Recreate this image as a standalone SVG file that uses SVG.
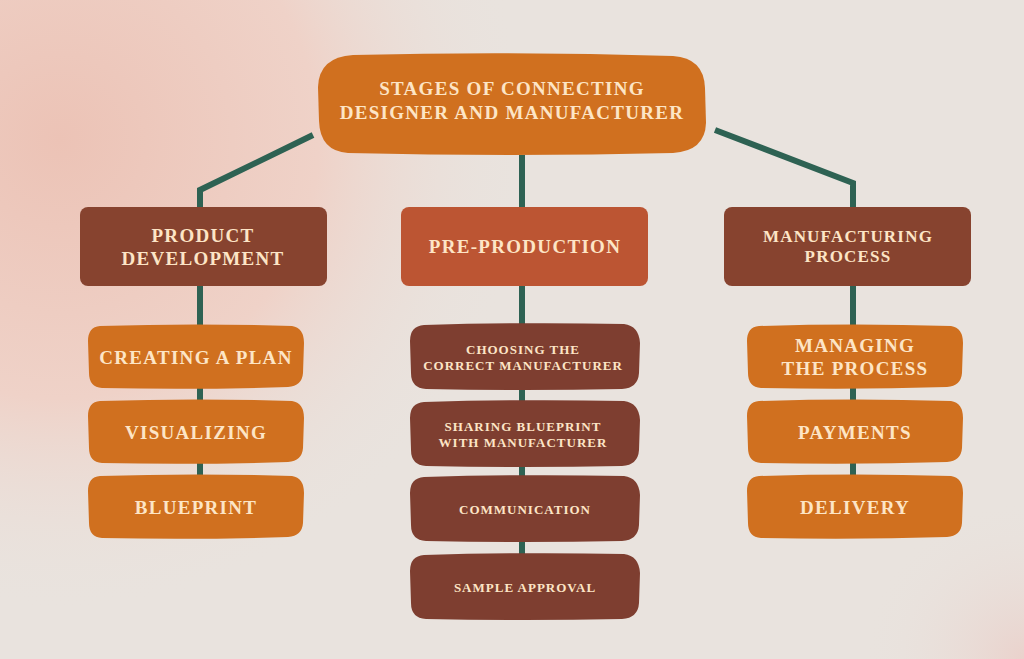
<svg xmlns="http://www.w3.org/2000/svg" xmlns:xlink="http://www.w3.org/1999/xlink" width="1024" height="659" viewBox="0 0 1024 659">
<defs>
<radialGradient id="pink" cx="60" cy="140" r="470" gradientUnits="userSpaceOnUse">
<stop offset="0" stop-color="#ecc3b6"/>
<stop offset="0.55" stop-color="#efd2c8"/>
<stop offset="1" stop-color="#e9e3de" stop-opacity="0"/>
</radialGradient>
<radialGradient id="pink2" cx="1024" cy="659" r="160" gradientUnits="userSpaceOnUse">
<stop offset="0" stop-color="#ead2cc"/>
<stop offset="1" stop-color="#e9e3de" stop-opacity="0"/>
</radialGradient>
<path id="blobA" d="M12 1 Q108 -2 204 1 Q216 3 216 18 L215 48 Q214 61 200 62 Q108 65 14 63 Q1 62 1 48 L0 16 Q0 2 12 1 Z"/>
<path id="blobB" d="M14 2 Q115 -1 214 1 Q229 3 230 20 L229 50 Q228 65 212 66 Q115 68 16 66 Q1 65 1 50 L0 18 Q0 3 14 2 Z"/>
<path id="blobTop" d="M35 2 Q194 -2 355 3 Q386 5 387 35 L388 70 Q387 98 355 100 Q194 104 30 100 Q2 98 1 68 L0 34 Q1 4 35 2 Z"/>
<style>
.t{font-family:"Liberation Serif","DejaVu Serif",serif;font-weight:bold;fill:#fde5c6;text-anchor:middle;dominant-baseline:central}
.big{font-size:19px;letter-spacing:1.3px}
.mid{font-size:17px;letter-spacing:1.2px}
.sm{font-size:13px;letter-spacing:1px}
.orange{fill:#d0701f}
.brown{fill:#87432f}
.rust{fill:#bc5533}
.dbrown{fill:#7e3e30}
.conn{fill:none;stroke:#2e6253;stroke-width:6;stroke-linejoin:miter}
</style>
</defs>
<rect width="1024" height="659" fill="#e9e3de"/>
<rect width="1024" height="659" fill="url(#pink)"/>
<rect width="1024" height="659" fill="url(#pink2)"/>

<g id="connectors">
<polyline class="conn" points="313,135 200,190 200,210"/>
<polyline class="conn" points="715,130 853,183 853,210"/>
<line class="conn" x1="522" y1="155" x2="522" y2="210"/>
<line class="conn" x1="200" y1="284" x2="200" y2="480"/>
<line class="conn" x1="522" y1="284" x2="522" y2="560"/>
<line class="conn" x1="853" y1="284" x2="853" y2="480"/>
</g>

<g id="root">
<use href="#blobTop" class="orange" x="318" y="53"/>
<text class="t big" x="512" y="88">STAGES OF CONNECTING</text>
<text class="t big" x="512" y="112">DESIGNER AND MANUFACTURER</text>
</g>

<g id="product-development">
<rect class="brown" x="80" y="207" width="247" height="79" rx="8"/>
<text class="t big" x="203" y="235">PRODUCT</text>
<text class="t big" x="203" y="258">DEVELOPMENT</text>
</g>
<g id="pre-production">
<rect class="rust" x="401" y="207" width="247" height="79" rx="8"/>
<text class="t big" x="525" y="246">PRE-PRODUCTION</text>
</g>
<g id="manufacturing-process">
<rect class="brown" x="724" y="207" width="247" height="79" rx="8"/>
<text class="t mid" x="848" y="236">MANUFACTURING</text>
<text class="t mid" x="848" y="256">PROCESS</text>
</g>

<g id="creating-a-plan">
<use href="#blobA" class="orange" x="88" y="325"/>
<text class="t big" x="196" y="357">CREATING A PLAN</text>
</g>
<g id="visualizing">
<use href="#blobA" class="orange" x="88" y="400"/>
<text class="t big" x="196" y="432">VISUALIZING</text>
</g>
<g id="blueprint">
<use href="#blobA" class="orange" x="88" y="475"/>
<text class="t big" x="196" y="507">BLUEPRINT</text>
</g>

<g id="choosing">
<use href="#blobB" class="dbrown" x="410" y="323"/>
<text class="t sm" x="523" y="349">CHOOSING THE</text>
<text class="t sm" x="523" y="365">CORRECT MANUFACTURER</text>
</g>
<g id="sharing">
<use href="#blobB" class="dbrown" x="410" y="400"/>
<text class="t sm" x="523" y="426">SHARING BLUEPRINT</text>
<text class="t sm" x="523" y="442">WITH MANUFACTURER</text>
</g>
<g id="communication">
<use href="#blobB" class="dbrown" x="410" y="475"/>
<text class="t sm" x="525" y="509">COMMUNICATION</text>
</g>
<g id="sample-approval">
<use href="#blobB" class="dbrown" x="410" y="553"/>
<text class="t sm" x="525" y="587">SAMPLE APPROVAL</text>
</g>

<g id="managing">
<use href="#blobA" class="orange" x="747" y="325"/>
<text class="t big" x="855" y="345">MANAGING</text>
<text class="t big" x="855" y="368">THE PROCESS</text>
</g>
<g id="payments">
<use href="#blobA" class="orange" x="747" y="400"/>
<text class="t big" x="855" y="432">PAYMENTS</text>
</g>
<g id="delivery">
<use href="#blobA" class="orange" x="747" y="475"/>
<text class="t big" x="855" y="507">DELIVERY</text>
</g>
</svg>
